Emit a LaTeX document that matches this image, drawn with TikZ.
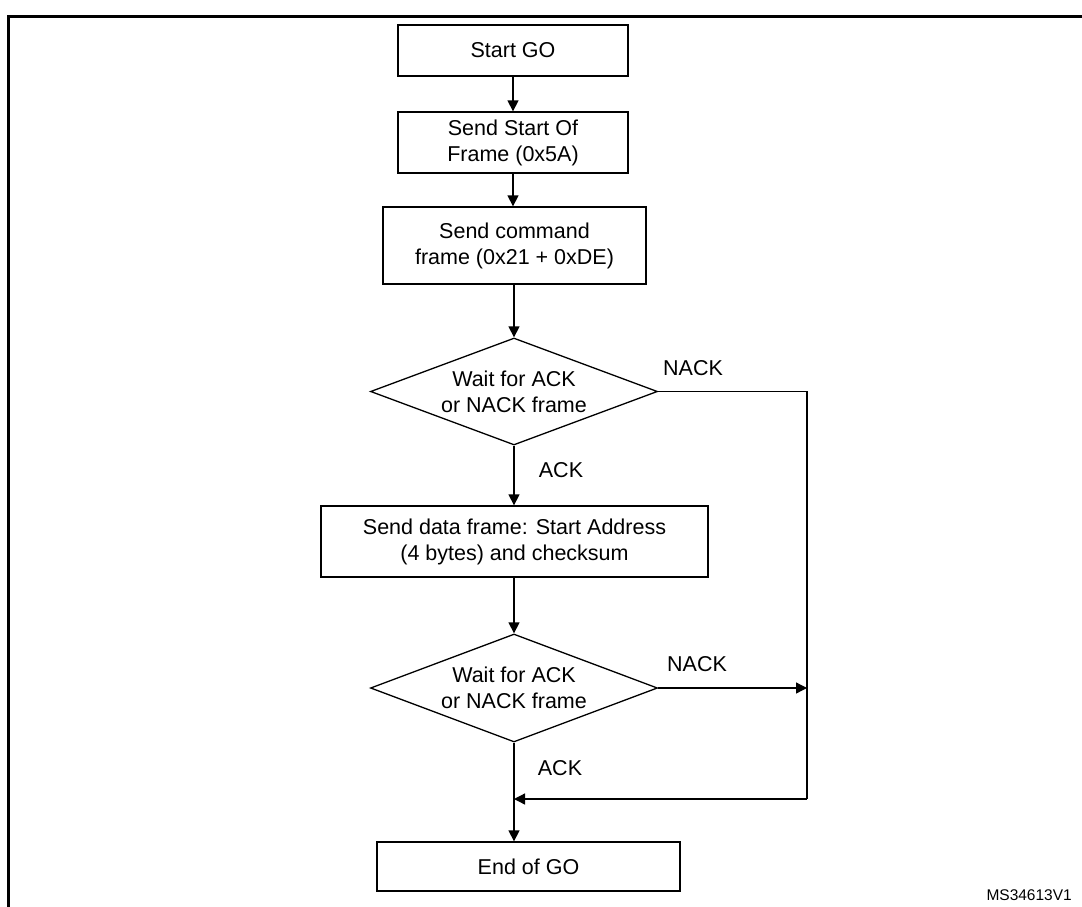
\documentclass[tikz,border=0pt]{standalone}
\usepackage{fontspec}
\setmainfont{Liberation Sans}
\usetikzlibrary{shapes.geometric,arrows.meta}
\begin{document}
\begin{tikzpicture}[x=1pt,y=-1pt,
  every node/.style={font=\fontsize{21.5}{26}\selectfont},
  stepbox/.style={draw, line width=1.3pt, inner sep=0pt, align=center},
  decide/.style={draw, diamond, aspect=2.68, line width=1.3pt, inner sep=0pt, align=center, minimum width=287pt, minimum height=107pt},
  flow/.style={line width=1.3pt, -{Triangle[length=11pt,width=11pt]}},
  plain/.style={line width=1.3pt},
  lbl/.style={inner sep=0pt}]
\useasboundingbox (0,0) rectangle (1082,907);
% frame
\draw[line width=3pt] (1082,16.5) -- (8,16.5) -- (8,907);
% nodes
\node[stepbox, minimum width=230pt, minimum height=51pt] (start) at (513,50.5) {Start GO};
\node[stepbox, minimum width=230pt, minimum height=61pt] (sof) at (513,142.5) {Send Start Of\\Frame (0x5A)};
\node[stepbox, minimum width=263pt, minimum height=77pt] (cmd) at (514.5,245.5) {Send command\\frame (0x21 + 0xDE)};
\node[decide] (d1) at (514,391.5) {Wait for ACK\\or NACK frame};
\node[stepbox, minimum width=387pt, minimum height=71pt] (data) at (514.5,541.5) {Send data frame: Start Address\\(4 bytes) and checksum};
\node[decide, minimum height=108pt] (d2) at (514,688) {Wait for ACK\\or NACK frame};
\node[stepbox, minimum width=303pt, minimum height=49pt] (endgo) at (528.5,866.5) {End of GO};
% coordinates
\coordinate (r1) at (807,391.5);
\coordinate (r2) at (807,688);
\coordinate (r3) at (807,799);
\coordinate (j) at (514,799);
% connectors
\draw[flow] (start.south) -- (sof.north -| start.south);
\draw[flow] (sof.south) -- (cmd.north -| sof.south);
\draw[flow] (cmd.south -| d1.north) -- (d1.north);
\draw[flow] (d1.south) -- (data.north -| d1.south);
\draw[flow] (data.south -| d2.north) -- (d2.north);
\draw[flow] (d2.south) -- (endgo.north -| d2.south);
\draw[plain] (d1.east) -- (r1) -- (r3);
\draw[flow] (r3) -- (j);
\draw[flow] (d2.east) -- (r2);
% labels
\node[lbl] (nack1) at (693,368) {NACK};
\node[lbl] (nack2) at (697,664) {NACK};
\node[lbl] (ack1) at (561,470) {ACK};
\node[lbl] (ack2) at (560,768) {ACK};
\node[lbl, anchor=east, font=\fontsize{15.5}{18}\selectfont] (code) at (1072,895) {MS34613V1};
\end{tikzpicture}
\end{document}
